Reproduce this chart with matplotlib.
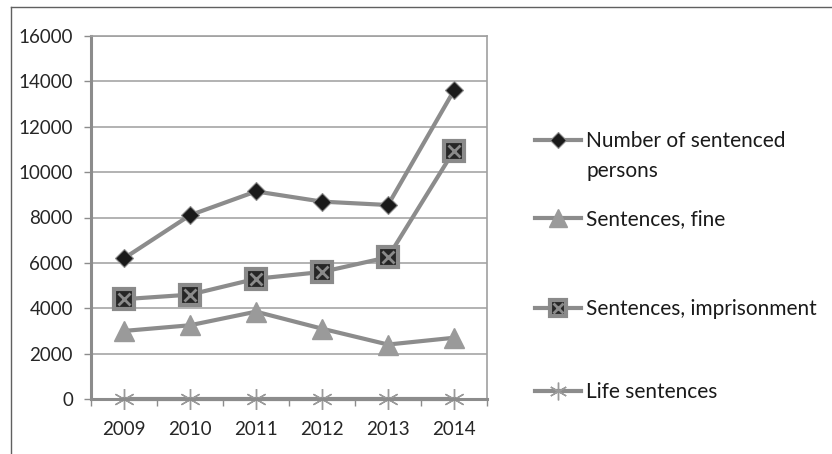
import matplotlib
matplotlib.use("Agg")
import matplotlib.pyplot as plt
from matplotlib.lines import Line2D
from matplotlib.legend_handler import HandlerTuple

plt.rcParams['font.family'] = ['Lato', 'DejaVu Sans']

# datos
anios = ['2009', '2010', '2011', '2012', '2013', '2014']
condenados = [6200, 8100, 9150, 8700, 8550, 13600]
multa = [3000, 3250, 3850, 3100, 2400, 2700]
prision = [4400, 4600, 5300, 5600, 6250, 10950]
perpetua = [0, 0, 0, 0, 0, 0]
etiquetas = ['Number of sentenced', 'Sentences, fine',
             'Sentences, imprisonment', 'Life sentences']
ticks_y = [0, 2000, 4000, 6000, 8000, 10000, 12000, 14000, 16000]

GRIS = '#8c8c8c'
x = list(range(len(anios)))

fig = plt.figure(figsize=(8.32, 4.54), dpi=100)
ax = fig.add_axes([91 / 832, 1 - 399 / 454, 396 / 832, 363 / 454])

# lineas de cuadricula y marco
ax.set_axisbelow(True)
ax.yaxis.grid(True, color='#a6a6a6', linewidth=1.2)
for lado in ['top', 'right']:
    ax.spines[lado].set_color('#a0a0a0')
    ax.spines[lado].set_linewidth(1.2)
for lado in ['left', 'bottom']:
    ax.spines[lado].set_color(GRIS)
    ax.spines[lado].set_linewidth(2.2)

l1, = ax.plot(x, condenados, color=GRIS, lw=3, marker='D', ms=9,
              markerfacecolor='#1a1a1a', markeredgecolor=GRIS, markeredgewidth=0.8)
l2, = ax.plot(x, multa, color=GRIS, lw=3, marker='^', ms=15,
              markerfacecolor='#9a9a9a', markeredgecolor='#9a9a9a')
l3, = ax.plot(x, prision, color=GRIS, lw=3, marker='s', ms=14,
              markerfacecolor='#262626', markeredgecolor='#8a8a8a', markeredgewidth=3)
l3x, = ax.plot(x, prision, ls='none', marker='x', ms=9, markeredgecolor='#8a8a8a',
               markeredgewidth=2)
l4, = ax.plot(x, perpetua, color=GRIS, lw=3, marker=(6, 2, 0), ms=15,
              markeredgecolor='#9a9a9a', markeredgewidth=1, clip_on=False)

ax.set_xlim(-0.5, len(anios) - 0.5)
ax.set_ylim(0, 16000)
ax.set_yticks(ticks_y)
ax.set_yticklabels([str(t) for t in ticks_y])
ax.set_xticks(x)
ax.set_xticklabels(anios)
ax.set_xticks([i - 0.5 for i in range(len(anios) + 1)], minor=True)
ax.tick_params(axis='x', which='major', length=0, pad=16, labelsize=13.5, colors='#262626')
ax.tick_params(axis='x', which='minor', length=5, width=1, color=GRIS, direction='out')
ax.tick_params(axis='y', length=5, width=1, color=GRIS, pad=8, labelsize=13.5,
               labelcolor='#262626')

# leyenda, una por serie para controlar la posición
# la primera lleva una segunda fila sin marcador para "persons"
vacio = Line2D([], [], ls='none')
entradas = [([l1, vacio], [etiquetas[0], 'persons'], 156), ([l2], [etiquetas[1]], 219),
            ([(l3, l3x)], [etiquetas[2]], 309), ([l4], [etiquetas[3]], 392)]
for hs, txts, ypix in entradas:
    leg = fig.legend(hs, txts, loc='center left', bbox_to_anchor=(535 / 832, 1 - ypix / 454),
                     frameon=False, fontsize=15, handlelength=2.2, handletextpad=0.25,
                     borderpad=0, borderaxespad=0, labelspacing=0.45,
                     labelcolor='#1a1a1a', markerscale=0.85,
                     handler_map={tuple: HandlerTuple(ndivide=1, pad=0)})

# borde exterior recortado
fig.add_artist(Line2D([11 / 832, 11 / 832], [0, 1 - 7 / 454], color='#606060', lw=1))
fig.add_artist(Line2D([11 / 832, 1], [1 - 7 / 454, 1 - 7 / 454], color='#606060', lw=1))

fig.savefig('out.png', dpi=100)
